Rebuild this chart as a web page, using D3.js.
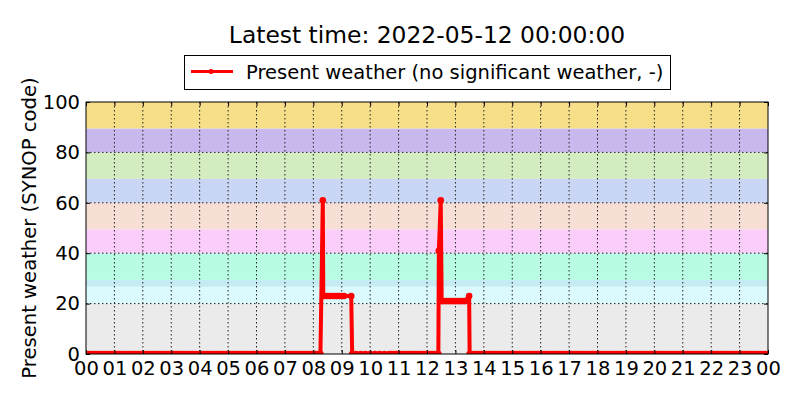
<!DOCTYPE html>
<html>
<head>
<meta charset="utf-8">
<script src="https://cdn.jsdelivr.net/npm/d3@7"></script>
<style>
    body { margin: 0; background: #ffffff; }
    text { font-family: "DejaVu Sans", sans-serif; }
</style>
</head>
<body>
<script>
// observation times (2022-05-11, local) and present weather SYNOP codes
var obsTimes = [
    "00:00","00:05","00:10","00:15","00:20","00:25","00:30","00:35","00:40","00:45","00:50","00:55",
    "01:00","01:05","01:10","01:15","01:20","01:25","01:30","01:35","01:40","01:45","01:50","01:55",
    "02:00","02:05","02:10","02:15","02:20","02:25","02:30","02:35","02:40","02:45","02:50","02:55",
    "03:00","03:05","03:10","03:15","03:20","03:25","03:30","03:35","03:40","03:45","03:50","03:55",
    "04:00","04:05","04:10","04:15","04:20","04:25","04:30","04:35","04:40","04:45","04:50","04:55",
    "05:00","05:05","05:10","05:15","05:20","05:25","05:30","05:35","05:40","05:45","05:50","05:55",
    "06:00","06:05","06:10","06:15","06:20","06:25","06:30","06:35","06:40","06:45","06:50","06:55",
    "07:00","07:05","07:10","07:15","07:20","07:25","07:30","07:35","07:40","07:45","07:50","07:55",
    "08:00","08:05","08:10","08:15","08:20","08:21","08:25","08:30","08:35","08:40","08:45","08:50","08:55",
    "09:00","09:05","09:20","09:22","09:30","09:40","09:50",
    "10:00","10:10","10:20","10:30","10:40","10:45","10:50","10:55",
    "11:00","11:05","11:10","11:15","11:20","11:25","11:30","11:35","11:40","11:45","11:50","11:55",
    "12:00","12:05","12:10","12:15","12:20","12:24","12:25","12:29","12:31","12:35","12:40","12:45","12:50","12:55",
    "13:00","13:05","13:10","13:15","13:20","13:29","13:30","13:35","13:40","13:45","13:50","13:55",
    "14:00","14:05","14:10","14:15","14:20","14:25","14:30","14:35","14:40","14:45","14:50","14:55",
    "15:00","15:05","15:10","15:15","15:20","15:25","15:30","15:35","15:40","15:45","15:50","15:55",
    "16:00","16:05","16:10","16:15","16:20","16:25","16:30","16:35","16:40","16:45","16:50","16:55",
    "17:00","17:05","17:10","17:15","17:20","17:25","17:30","17:35","17:40","17:45","17:50","17:55",
    "18:00","18:05","18:10","18:15","18:20","18:25","18:30","18:35","18:40","18:45","18:50","18:55",
    "19:00","19:05","19:10","19:15","19:20","19:25","19:30","19:35","19:40","19:45","19:50","19:55",
    "20:00","20:05","20:10","20:15","20:20","20:25","20:30","20:35","20:40","20:45","20:50","20:55",
    "21:00","21:05","21:10","21:15","21:20","21:25","21:30","21:35","21:40","21:45","21:50","21:55",
    "22:00","22:05","22:10","22:15","22:20","22:25","22:30","22:35","22:40","22:45","22:50","22:55",
    "23:00","23:05","23:10","23:15","23:20","23:25","23:30","23:35","23:40","23:45","23:50","23:55",
    "24:00"
];

var obsCodes = [
    0,0,0,0,0,0,0,0,0,0,0,0,
    0,0,0,0,0,0,0,0,0,0,0,0,
    0,0,0,0,0,0,0,0,0,0,0,0,
    0,0,0,0,0,0,0,0,0,0,0,0,
    0,0,0,0,0,0,0,0,0,0,0,0,
    0,0,0,0,0,0,0,0,0,0,0,0,
    0,0,0,0,0,0,0,0,0,0,0,0,
    0,0,0,0,0,0,0,0,0,0,0,0,
    0,0,0,0,61,23,23,23,23,23,23,23,23,
    23,23,23,0,0,0,0,
    0,0,0,0,0,0,0,0,
    0,0,0,0,0,0,0,0,0,0,0,0,
    0,0,0,0,0,0,41,61,21,21,21,21,21,21,
    21,21,21,21,21,23,0,0,0,0,0,0,
    0,0,0,0,0,0,0,0,0,0,0,0,
    0,0,0,0,0,0,0,0,0,0,0,0,
    0,0,0,0,0,0,0,0,0,0,0,0,
    0,0,0,0,0,0,0,0,0,0,0,0,
    0,0,0,0,0,0,0,0,0,0,0,0,
    0,0,0,0,0,0,0,0,0,0,0,0,
    0,0,0,0,0,0,0,0,0,0,0,0,
    0,0,0,0,0,0,0,0,0,0,0,0,
    0,0,0,0,0,0,0,0,0,0,0,0,
    0,0,0,0,0,0,0,0,0,0,0,0,
    0
];

// SYNOP code group bands behind the series
var bandLow  = [0, 20, 26.7, 29.4, 40, 49.5, 60, 69.5, 80, 89.5];
var bandHigh = [20, 26.7, 29.4, 40, 49.5, 60, 69.5, 80, 89.5, 100];
var bandColors = ["#ebebeb", "#dafafe", "#c5ebf3", "#b8fde3", "#fbcdfb",
                  "#f8dfd5", "#c9d6f5", "#d3ecc0", "#c9b8ed", "#f7df8a"];

var yTicks = [0, 20, 40, 60, 80, 100];
var titleText = "Latest time: 2022-05-12 00:00:00";
var legendText = "Present weather (no significant weather, -)";
var yLabel = "Present weather (SYNOP code)";

window.onload = function(){
    var width = 800, height = 400;
    var margin = {top: 102, right: 32, bottom: 46, left: 86};
    var plotW = width - margin.left - margin.right;
    var plotH = height - margin.top - margin.bottom;
    var fontSize = 19.5;

    //turn "HH:MM" into a date on the plotted day
    function parseTime(s){
        var p = s.split(":");
        return new Date(2022, 4, 11, +p[0], +p[1]);
    }

    var obs = obsTimes.map(function(t, i){
        return {time: parseTime(t), code: obsCodes[i]};
    });

    var x = d3.scaleTime()
        .domain([new Date(2022, 4, 11, 0, 0), new Date(2022, 4, 12, 0, 0)])
        .range([0, plotW]);

    var y = d3.scaleLinear()
        .domain([0, 100])
        .range([plotH, 0]);

    var svg = d3.select("body")
        .append("svg")
        .attr("width", width)
        .attr("height", height);

    svg.append("defs").append("clipPath")
        .attr("id", "plotClip")
        .append("rect")
        .attr("width", plotW)
        .attr("height", plotH);

    var plot = svg.append("g")
        .attr("transform", "translate(" + margin.left + "," + margin.top + ")");

    //background bands
    plot.selectAll(".band")
        .data(bandLow)
        .enter()
        .append("rect")
        .attr("class", "band")
        .attr("x", 0)
        .attr("width", plotW)
        .attr("y", function(d, i){ return y(bandHigh[i]); })
        .attr("height", function(d, i){ return y(d) - y(bandHigh[i]); })
        .style("fill", function(d, i){ return bandColors[i]; });

    //dotted grid
    var hourTicks = x.ticks(d3.timeHour.every(1));
    plot.selectAll(".vgrid")
        .data(hourTicks.slice(1, -1))
        .enter()
        .append("line")
        .attr("class", "vgrid")
        .attr("x1", function(d){ return x(d); })
        .attr("x2", function(d){ return x(d); })
        .attr("y1", 0)
        .attr("y2", plotH)
        .style("stroke", "#222")
        .style("stroke-width", 1)
        .style("stroke-dasharray", "1.5,2.5");

    plot.selectAll(".hgrid")
        .data(yTicks.slice(1, -1))
        .enter()
        .append("line")
        .attr("class", "hgrid")
        .attr("x1", 0)
        .attr("x2", plotW)
        .attr("y1", function(d){ return y(d); })
        .attr("y2", function(d){ return y(d); })
        .style("stroke", "#222")
        .style("stroke-width", 1)
        .style("stroke-dasharray", "1.5,2.5");

    //series line and markers
    var series = plot.append("g")
        .attr("clip-path", "url(#plotClip)");

    var line = d3.line()
        .x(function(d){ return x(d.time); })
        .y(function(d){ return y(d.code); });

    series.append("path")
        .datum(obs)
        .attr("d", line)
        .style("fill", "none")
        .style("stroke", "#ff0000")
        .style("stroke-width", 4)
        .style("stroke-linejoin", "round");

    series.selectAll(".dot")
        .data(obs)
        .enter()
        .append("circle")
        .attr("class", "dot")
        .attr("cx", function(d){ return x(d.time); })
        .attr("cy", function(d){ return y(d.code); })
        .attr("r", 3.3)
        .style("fill", "#ff0000");

    //frame
    plot.append("rect")
        .attr("x", 0)
        .attr("y", 0)
        .attr("width", plotW)
        .attr("height", plotH)
        .style("fill", "none")
        .style("stroke", "#000")
        .style("stroke-width", 1);

    //axes, ticks pointing inward
    var xAxis = plot.append("g")
        .attr("transform", "translate(0," + plotH + ")")
        .call(d3.axisBottom(x)
            .ticks(d3.timeHour.every(1))
            .tickFormat(d3.timeFormat("%H"))
            .tickSizeInner(-4)
            .tickSizeOuter(0)
            .tickPadding(7));

    var yAxis = plot.append("g")
        .call(d3.axisLeft(y)
            .tickValues(yTicks)
            .tickSizeInner(-4)
            .tickSizeOuter(0)
            .tickPadding(6));

    plot.append("g")
        .call(d3.axisTop(x).ticks(d3.timeHour.every(1)).tickFormat("").tickSizeInner(-4).tickSizeOuter(0));

    plot.append("g")
        .attr("transform", "translate(" + plotW + ",0)")
        .call(d3.axisRight(y).tickValues(yTicks).tickFormat("").tickSizeInner(-4).tickSizeOuter(0));

    plot.selectAll(".domain").remove();

    [xAxis, yAxis].forEach(function(a){
        a.attr("font-size", fontSize)
            .attr("font-family", "DejaVu Sans");
        a.selectAll("text").style("fill", "#000");
    });

    //title
    svg.append("text")
        .attr("x", margin.left + plotW / 2)
        .attr("y", 43)
        .attr("text-anchor", "middle")
        .style("font-size", "23.4px")
        .text(titleText);

    //legend
    var legend = svg.append("g");
    legend.append("rect")
        .attr("x", 184.5)
        .attr("y", 55.5)
        .attr("width", 486)
        .attr("height", 34)
        .style("fill", "#fff")
        .style("stroke", "#000")
        .style("stroke-width", 1);
    legend.append("line")
        .attr("x1", 191)
        .attr("x2", 233)
        .attr("y1", 71.5)
        .attr("y2", 71.5)
        .style("stroke", "#ff0000")
        .style("stroke-width", 3);
    legend.append("circle")
        .attr("cx", 211)
        .attr("cy", 71.5)
        .attr("r", 2.5)
        .style("fill", "#ff0000");
    legend.append("text")
        .attr("x", 246)
        .attr("y", 79)
        .style("font-size", fontSize + "px")
        .text(legendText);

    //y axis label
    svg.append("text")
        .attr("transform", "translate(35.5," + (margin.top + plotH / 2) + ") rotate(-90)")
        .attr("text-anchor", "middle")
        .style("font-size", "19.6px")
        .text(yLabel);
};
</script>
</body>
</html>
